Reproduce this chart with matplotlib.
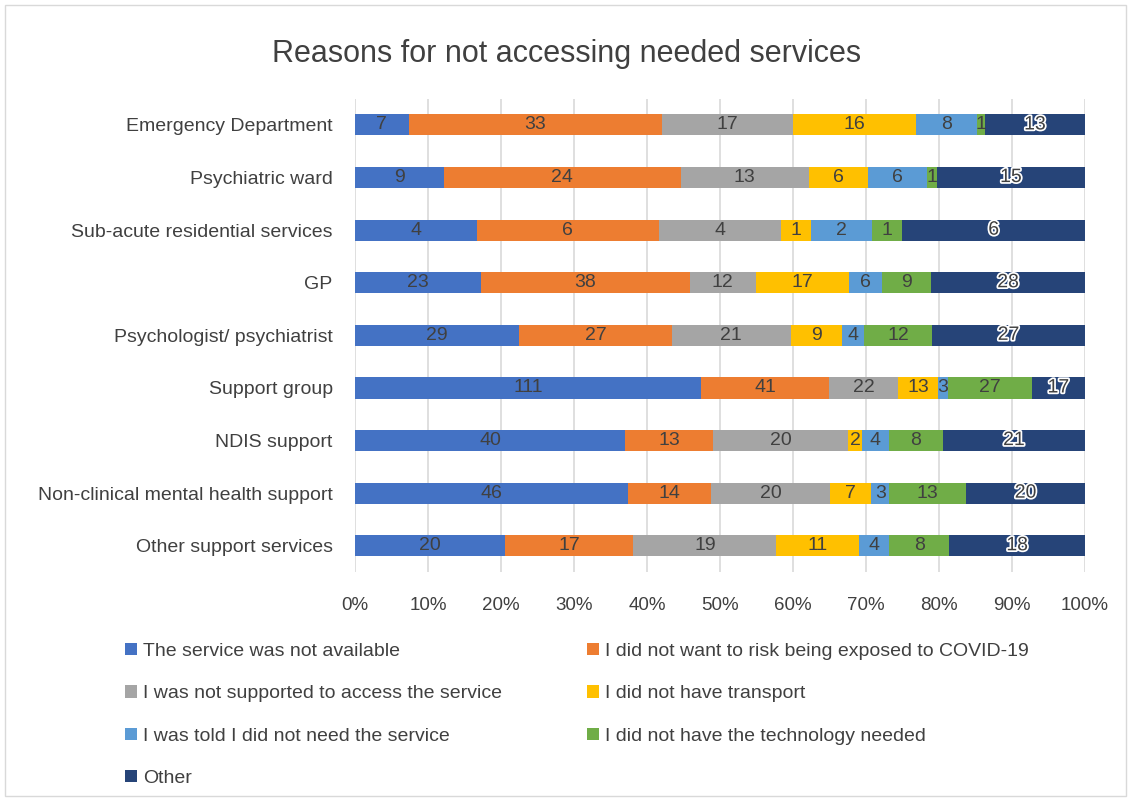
import numpy as np
import matplotlib.pyplot as plt
import matplotlib.patheffects as pe

plt.rcParams['font.family'] = ['Liberation Sans', 'DejaVu Sans']

# 服务类别（从上到下）
services = ["Emergency Department", "Psychiatric ward", "Sub-acute residential services",
            "GP", "Psychologist/ psychiatrist", "Support group", "NDIS support",
            "Non-clinical mental health support", "Other support services"]

reasons = ["The service was not available",
           "I did not want to risk being exposed to COVID-19",
           "I was not supported to access the service",
           "I did not have transport",
           "I was told I did not need the service",
           "I did not have the technology needed",
           "Other"]

not_available = [7, 9, 4, 23, 29, 111, 40, 46, 20]
covid_risk = [33, 24, 6, 38, 27, 41, 13, 14, 17]
not_supported = [17, 13, 4, 12, 21, 22, 20, 20, 19]
no_transport = [16, 6, 1, 17, 9, 13, 2, 7, 11]
told_not_need = [8, 6, 2, 6, 4, 3, 4, 3, 4]
no_technology = [1, 1, 1, 9, 12, 27, 8, 13, 8]
other = [13, 15, 6, 28, 27, 17, 21, 20, 18]

colors = ["#4472C4", "#ED7D31", "#A5A5A5", "#FFC000", "#5B9BD5", "#70AD47", "#264478"]

series = [not_available, covid_risk, not_supported, no_transport,
          told_not_need, no_technology, other]
data = np.array(series, dtype=float)
totals = data.sum(axis=0)
pct = data / totals * 100

fig = plt.figure(figsize=(11.33, 7.99), dpi=100)
ax = fig.add_axes([0.3133, 0.284, 0.6443, 0.5925])

y = np.arange(len(services))
left = np.zeros(len(services))
handles = []
for i in range(len(series)):
    b = ax.barh(y, pct[i], left=left, height=0.4, color=colors[i], label=reasons[i], zorder=3)
    handles.append(b)
    for j in range(len(services)):
        cx = left[j] + pct[i][j] / 2
        if i == len(series) - 1:
            ax.text(cx, y[j], "%d" % data[i][j], ha="center", va="center", fontsize=14,
                    color="#404040", zorder=4,
                    path_effects=[pe.withStroke(linewidth=2.5, foreground="white")])
        else:
            ax.text(cx, y[j], "%d" % data[i][j], ha="center", va="center", fontsize=14,
                    color="#404040", zorder=4)
    left += pct[i]

ax.set_xlim(0, 100)
ax.set_ylim(len(services) - 0.5, -0.5)
ax.set_yticks(y)
ax.set_yticklabels(services, fontsize=14, color="#404040")
ax.set_xticks(np.arange(0, 101, 10))
ax.set_xticklabels(["%d%%" % v for v in range(0, 101, 10)], fontsize=13.5, color="#404040")
ax.tick_params(length=0)
ax.tick_params(axis="x", pad=18)
ax.tick_params(axis="y", pad=16)
ax.grid(axis="x", color="#D9D9D9", linewidth=1.2, zorder=0)
for s in ax.spines.values():
    s.set_visible(False)

fig.text(0.5, 0.933, "Reasons for not accessing needed services", ha="center", va="center",
         fontsize=22, color="#404040")

# 图例按行排列
order = [0, 2, 4, 6, 1, 3, 5]
leg = fig.legend([handles[k] for k in order], [reasons[k] for k in order],
                 loc="upper left", bbox_to_anchor=(0.095, 0.217), ncol=2, frameon=False,
                 fontsize=14, handlelength=0.6, handleheight=0.6, handletextpad=0.3,
                 columnspacing=4.4, labelspacing=1.3, labelcolor="#404040")

# 外边框
fig.add_artist(plt.Rectangle((0.004, 0.004), 0.99, 0.99, transform=fig.transFigure,
                             fill=False, edgecolor="#D9D9D9", linewidth=1))

fig.savefig("out.png", dpi=100)
